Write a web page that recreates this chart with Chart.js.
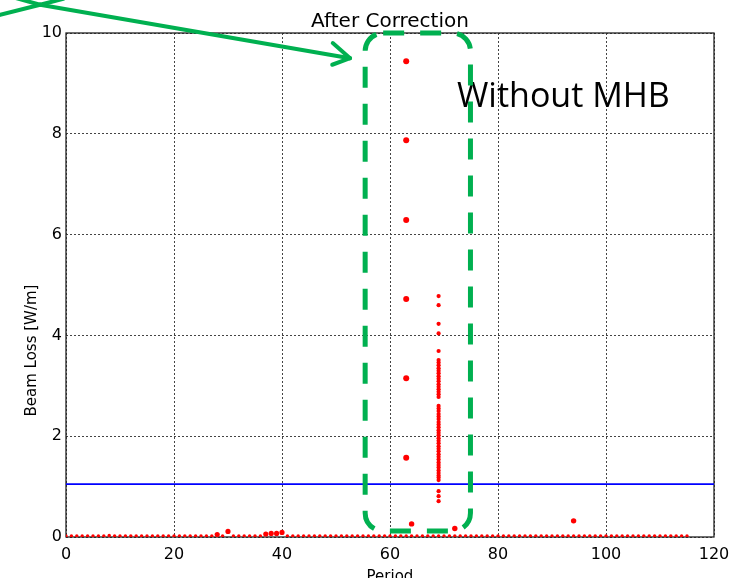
<!DOCTYPE html>
<html>
<head>
<meta charset="utf-8">
<title>After Correction</title>
<script src="https://cdn.jsdelivr.net/npm/chart.js@4.4.0/dist/chart.umd.min.js"></script>
<style>
  html, body { margin: 0; padding: 0; background: #fff; }
  #wrap { width: 730px; height: 578px; }
</style>
</head>
<body>
<div id="wrap"><canvas id="lossChart" width="730" height="578"></canvas></div>
<script>
// beam loss [W/m] per period, index = period number (0..115)
const baseLoss = [
  0.02, 0.02, 0.02, 0.02, 0.02, 0.02, 0.02, 0.02, 0.03, 0.02,
  0.02, 0.02, 0.02, 0.02, 0.02, 0.02, 0.02, 0.02, 0.02, 0.02,
  0.02, 0.02, 0.02, 0.02, 0.02, 0.02, 0.02, 0.02, 0.05, 0.02,
  0.11, 0.02, 0.02, 0.02, 0.02, 0.02, 0.02, 0.06, 0.07, 0.07,
  0.09, 0.02, 0.02, 0.02, 0.02, 0.02, 0.02, 0.02, 0.02, 0.02,
  0.02, 0.02, 0.02, 0.02, 0.02, 0.02, 0.02, 0.02, 0.02, 0.02,
  0.02, 0.02, 0.02, 0.02, 0.02, 0.02, 0.02, 0.02, 0.02, 0.02,
  0.02, 0.02, 0.02, 0.02, 0.02, 0.02, 0.02, 0.02, 0.02, 0.02,
  0.02, 0.02, 0.02, 0.02, 0.02, 0.02, 0.02, 0.02, 0.02, 0.02,
  0.02, 0.02, 0.02, 0.02, 0.02, 0.02, 0.02, 0.02, 0.02, 0.02,
  0.02, 0.02, 0.02, 0.02, 0.02, 0.02, 0.02, 0.02, 0.02, 0.02,
  0.02, 0.02, 0.02, 0.02, 0.02, 0.02
];

// large losses at period 63
const spikePeriod = 63;
const spikeLoss = [9.44, 7.87, 6.29, 4.72, 3.15, 1.57];

// spread of losses at period 69
const columnPeriod = 69;
const columnLoss = [
  4.78, 4.60, 4.23, 4.04, 3.69,
  3.51, 3.46, 3.41, 3.35, 3.30, 3.25, 3.19, 3.14, 3.09, 3.03, 2.98, 2.93, 2.88, 2.83, 2.78,
  2.60, 2.55, 2.50, 2.44, 2.39, 2.34, 2.28, 2.23, 2.18, 2.12, 2.07, 2.02, 1.96, 1.91,
  1.86, 1.80, 1.75, 1.70, 1.64, 1.59, 1.54, 1.48, 1.43, 1.38, 1.32, 1.27, 1.22, 1.18, 1.13,
  0.91, 0.81, 0.71
];

// a few isolated points
const otherPeriods = [64, 72, 94];
const otherLoss = [0.26, 0.17, 0.32];

// loss limit
const lossLimit = 1.05;

const xTicks = [0, 20, 40, 60, 80, 100, 120];
const yTicks = [0, 2, 4, 6, 8, 10];

const RED = '#ff0000';
const GREEN = '#00b050';

const overlay = {
  id: 'overlay',
  beforeDatasetsDraw(chart) {
    const { ctx, chartArea: a } = chart;
    ctx.save();
    ctx.strokeStyle = '#222';
    ctx.lineWidth = 1.3;
    ctx.strokeRect(a.left, a.top, a.right - a.left, a.bottom - a.top);
    ctx.restore();
  },
  afterDatasetsDraw(chart) {
    const { ctx, chartArea: a, scales: { x, y } } = chart;
    const px = v => x.getPixelForValue(v);
    const py = v => y.getPixelForValue(v);
    ctx.save();

    // title
    ctx.fillStyle = '#000';
    ctx.font = '20px "DejaVu Sans"';
    ctx.textAlign = 'center';
    ctx.textBaseline = 'alphabetic';
    ctx.fillText('After Correction', (a.left + a.right) / 2, 27);

    // y axis title, a bit below the middle of the axis
    ctx.save();
    ctx.translate(36, py(3.7));
    ctx.rotate(-Math.PI / 2);
    ctx.font = '15px "DejaVu Sans"';
    ctx.textAlign = 'center';
    ctx.fillText('Beam Loss [W/m]', 0, 0);
    ctx.restore();

    // label
    ctx.textAlign = 'left';
    ctx.font = '34px "Open Sans"';
    ctx.fillText('Without MHB', px(72.4), py(8.53));

    // dashed rounded box around periods 55..75
    const l = px(55.4), r = px(74.9), t = py(10), b = py(0.12), rad = 18;
    ctx.strokeStyle = GREEN;
    ctx.lineWidth = 5;
    ctx.setLineDash([21, 16]);
    ctx.beginPath();
    ctx.moveTo(l + rad, t);
    ctx.lineTo(r - rad, t);
    ctx.arcTo(r, t, r, t + rad, rad);
    ctx.lineTo(r, b - rad);
    ctx.arcTo(r, b, r - rad, b, rad);
    ctx.lineTo(l + rad, b);
    ctx.arcTo(l, b, l, b - rad, rad);
    ctx.lineTo(l, t + rad);
    ctx.arcTo(l, t, l + rad, t, rad);
    ctx.stroke();

    // arrow pointing at the box
    ctx.setLineDash([]);
    ctx.lineWidth = 4;
    ctx.lineCap = 'round';
    const seg = (x1, y1, x2, y2) => {
      ctx.beginPath();
      ctx.moveTo(px(x1), py(y1));
      ctx.lineTo(px(x2), py(y2));
      ctx.stroke();
    };
    seg(-4.8, 10.56, 52.6, 9.50);
    seg(52.6, 9.50, 49.4, 9.80);
    seg(52.6, 9.50, 49.3, 9.37);
    seg(-12.2, 10.36, -4.8, 10.56);
    seg(-9.5, 10.70, -4.8, 10.56);
    seg(-4.8, 10.56, -0.5, 10.68);
    ctx.restore();
  }
};

const ctx = document.getElementById('lossChart').getContext('2d');

new Chart(ctx, {
  type: 'scatter',
  data: {
    datasets: [
      {
        type: 'line',
        data: [{ x: 0, y: lossLimit }, { x: 120, y: lossLimit }],
        borderColor: '#0000ff',
        borderWidth: 1.6,
        pointRadius: 0,
        order: 0
      },
      {
        data: baseLoss.map((v, i) => ({ x: i, y: v })),
        backgroundColor: RED,
        borderWidth: 0,
        pointRadius: c => (c.raw && c.raw.y > 0.04 ? 2.6 : 1.7),
        order: 1
      },
      {
        data: spikeLoss.map(v => ({ x: spikePeriod, y: v })),
        backgroundColor: RED,
        borderWidth: 0,
        pointRadius: 3,
        order: 1
      },
      {
        data: columnLoss.map(v => ({ x: columnPeriod, y: v })),
        backgroundColor: RED,
        borderWidth: 0,
        pointRadius: 2.1,
        order: 1
      },
      {
        data: otherLoss.map((v, i) => ({ x: otherPeriods[i], y: v })),
        backgroundColor: RED,
        borderWidth: 0,
        pointRadius: 2.7,
        order: 1
      }
    ]
  },
  options: {
    responsive: false,
    animation: false,
    layout: { padding: { left: 0, right: 16, top: 33, bottom: 0 } },
    plugins: {
      legend: { display: false },
      tooltip: { enabled: false },
      title: { display: false }
    },
    scales: {
      x: {
        type: 'linear',
        min: 0,
        max: 120,
        afterBuildTicks: s => { s.ticks = xTicks.map(v => ({ value: v })); },
        afterFit: s => { s.height = 41; s.paddingLeft = 0; s.paddingRight = 0; },
        grid: { color: '#444', lineWidth: 1, drawTicks: false },
        border: { display: false, dash: [2, 2] },
        ticks: {
          color: '#000',
          padding: 8,
          maxRotation: 0,
          font: { family: 'DejaVu Sans', size: 16 }
        },
        title: {
          display: true,
          text: 'Period',
          color: '#000',
          padding: { top: 0, bottom: -8 },
          font: { family: 'DejaVu Sans', size: 15 }
        }
      },
      y: {
        min: 0,
        max: 10,
        afterBuildTicks: s => { s.ticks = yTicks.map(v => ({ value: v })); },
        afterFit: s => { s.width = 66; s.paddingTop = 0; s.paddingBottom = 0; },
        grid: { color: '#444', lineWidth: 1, drawTicks: false },
        border: { display: false, dash: [2, 2] },
        ticks: {
          color: '#000',
          padding: 4,
          font: { family: 'DejaVu Sans', size: 16 }
        }
      }
    }
  },
  plugins: [overlay]
});
</script>
</body>
</html>
